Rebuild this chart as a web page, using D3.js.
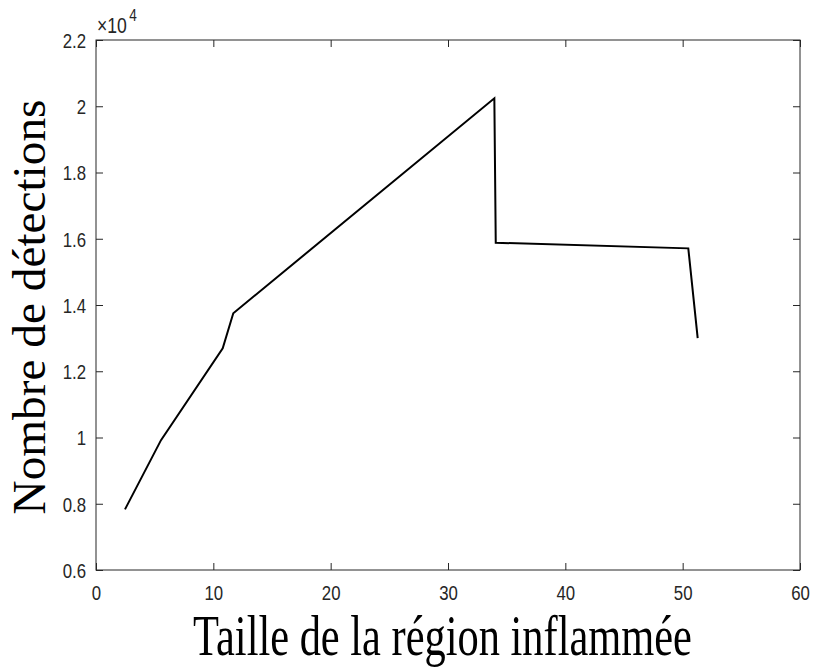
<!DOCTYPE html>
<html><head><meta charset="utf-8">
<script src="https://cdn.jsdelivr.net/npm/d3@7"></script>
<style>body{margin:0;background:#fff}svg{display:block}</style>
</head><body>
<script>
const xValues = [2.47, 5.54, 10.8, 11.7, 33.95, 34.07, 50.48, 51.28];
const yValues = [7830, 9920, 12690, 13750, 20240, 15880, 15710, 13000];
const xTicks = [0, 10, 20, 30, 40, 50, 60];
const yTicks = [6000, 8000, 10000, 12000, 14000, 16000, 18000, 20000, 22000];
const yTickLabels = ["0.6","0.8","1","1.2","1.4","1.6","1.8","2","2.2"];
const xLabel = "Taille de la région inflammée";
const yLabel = "Nombre de détections";

const W = 813, H = 668;
const L = 96, R = 800, T = 40, B = 570;
const svg = d3.select("body").append("svg").attr("width", W).attr("height", H);
const x = d3.scaleLinear().domain([0, 60]).range([L, R]);
const y = d3.scaleLinear().domain([6000, 22000]).range([B, T]);
const axisColor = "#262626";
const tickFont = "'Liberation Sans', Arial, sans-serif";
const sx = 0.8;

svg.append("rect").attr("x", L).attr("y", T).attr("width", R - L).attr("height", B - T)
  .attr("fill", "none").attr("stroke", axisColor).attr("stroke-width", 1);

const tl = 7;
const xa = svg.append("g").attr("transform", `translate(0,${B})`)
  .call(d3.axisBottom(x).tickValues(xTicks).tickSize(-tl).tickPadding(15).tickFormat(d3.format("d")));
svg.append("g").attr("transform", `translate(0,${T})`)
  .call(d3.axisTop(x).tickValues(xTicks).tickSize(-tl).tickFormat(""));
const ya = svg.append("g").attr("transform", `translate(${L},0)`)
  .call(d3.axisLeft(y).tickValues(yTicks).tickSize(-tl).tickPadding(10)
    .tickFormat((d, i) => yTickLabels[i]));
svg.append("g").attr("transform", `translate(${R},0)`)
  .call(d3.axisRight(y).tickValues(yTicks).tickSize(-tl).tickFormat(""));

svg.selectAll(".domain").remove();
svg.selectAll(".tick line").attr("stroke", axisColor).attr("stroke-width", 1);
svg.selectAll(".tick text").attr("fill", axisColor).attr("font-family", tickFont).attr("font-size", 21);
xa.selectAll(".tick text").attr("dy", "0.71em").attr("transform", `scale(${sx},1)`);
ya.selectAll(".tick text").attr("dy", "0.35em").attr("x", -10 / sx).attr("transform", `scale(${sx},1)`);

const ex = svg.append("text").attr("transform", `translate(${L + 1},33) scale(${sx},1)`)
  .attr("fill", axisColor).attr("font-family", tickFont).attr("font-size", 22);
ex.append("tspan").text("×10");
ex.append("tspan").attr("dy", -12).attr("dx", 3).attr("font-size", 17).text("4");

const line = d3.line().x((d, i) => x(xValues[i])).y(d => y(d));
svg.append("path").datum(yValues).attr("d", line)
  .attr("fill", "none").attr("stroke", "#000").attr("stroke-width", 2).attr("stroke-linejoin", "miter");

const serif = "'Liberation Serif', 'DejaVu Serif', serif";
function fitLabel(txt, size, targetW, tx, ty, rot) {
  const g = svg.append("g");
  const t = g.append("text").attr("font-family", serif).attr("font-size", size)
    .attr("fill", "#000").attr("text-anchor", "middle").text(txt);
  const w = t.node().getComputedTextLength();
  const s = targetW / w;
  g.attr("transform", `translate(${tx},${ty}) rotate(${rot}) scale(${s},1)`);
}
fitLabel(xLabel, 56, 499, 442.5, 655, 0);
fitLabel(yLabel, 46, 415, 45, 307, -90);
</script>
</body></html>
